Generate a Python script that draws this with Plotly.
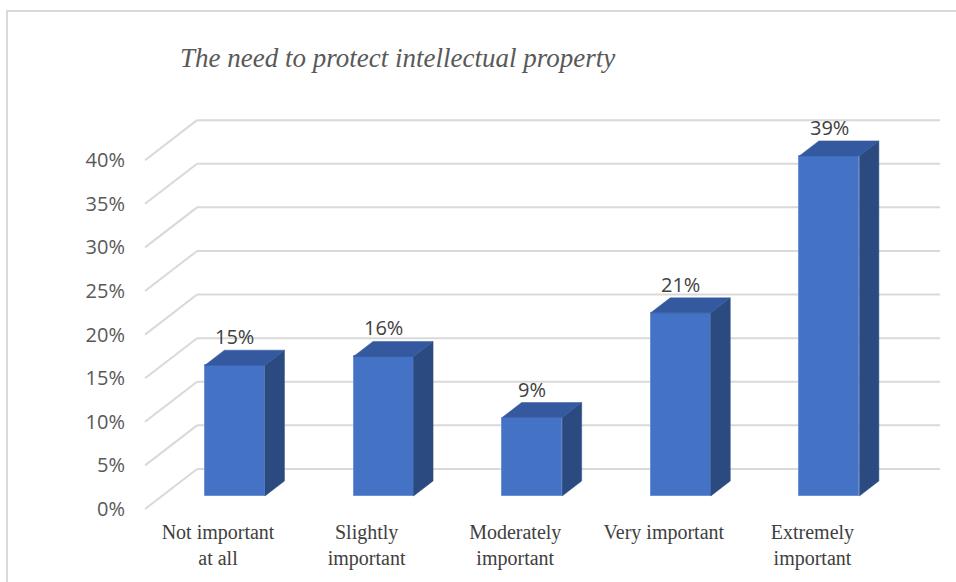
import plotly.graph_objects as go

# Survey results: importance of protecting intellectual property
categories = ["Not important at all", "Slightly important", "Moderately important",
              "Very important", "Extremely important"]
tick_text = ["Not important<br>at all", "Slightly<br>important", "Moderately<br>important",
             "Very important", "Extremely<br>important"]
values = [15, 16, 9, 21, 39]          # percent
y_ticks = [0, 5, 10, 15, 20, 25, 30, 35, 40]

# Oblique 3-D projection: one unit of depth shifts a point by these amounts
DEPTH_DX = 0.35      # in category units
DEPTH_DY = 4.59      # in percent units
BAR_FRONT = 0.325    # depth of bar front faces (0 = front edge, 1 = back wall)
BAR_BACK = 0.70      # depth of bar back faces
BAR_W = 0.404        # bar width in category units
WALL_LEFT = -0.491   # left edge of the floor/walls at the front
WALL_RIGHT = 4.509   # right edge of the back wall at the front

FRONT = "#4472C4"
SIDE = "#2B4A80"
TOP = "#34599E"
GRID = "#D9D9D9"

fig = go.Figure()

# Back wall gridlines and left wall diagonals, kept beneath the bars
for t in y_ticks:
    fig.add_shape(type="line", xref="x", yref="y", layer="below",
                  x0=WALL_LEFT, y0=t, x1=WALL_LEFT + DEPTH_DX, y1=t + DEPTH_DY,
                  line=dict(color=GRID, width=2))
    fig.add_shape(type="line", xref="x", yref="y", layer="below",
                  x0=WALL_LEFT + DEPTH_DX, y0=t + DEPTH_DY,
                  x1=WALL_RIGHT + DEPTH_DX, y1=t + DEPTH_DY,
                  line=dict(color=GRID, width=2))

x_pos = list(range(len(values)))
fx = [c + BAR_FRONT * DEPTH_DX for c in x_pos]
base = BAR_FRONT * DEPTH_DY
ddx = (BAR_BACK - BAR_FRONT) * DEPTH_DX
ddy = (BAR_BACK - BAR_FRONT) * DEPTH_DY

# Side and top faces of each bar
for cx, v in zip(fx, values):
    xl, xr = cx - BAR_W / 2, cx + BAR_W / 2
    yb, yt = base, base + v
    fig.add_trace(go.Scatter(
        x=[xr, xr, xr + ddx, xr + ddx, xr], y=[yb, yt, yt + ddy, yb + ddy, yb],
        mode="lines", fill="toself", fillcolor=SIDE, line=dict(color=SIDE, width=0.5),
        hoverinfo="skip", showlegend=False))
    fig.add_trace(go.Scatter(
        x=[xl, xr, xr + ddx, xl + ddx, xl], y=[yt, yt, yt + ddy, yt + ddy, yt],
        mode="lines", fill="toself", fillcolor=TOP, line=dict(color=TOP, width=0.5),
        hoverinfo="skip", showlegend=False))

# Front faces
fig.add_trace(go.Bar(x=fx, y=values, base=[base] * len(values), width=BAR_W,
                     marker=dict(color=FRONT, line=dict(color="#6C91D6", width=1)),
                     showlegend=False, hovertext=categories))

# Value labels above each bar
for cx, v in zip(fx, values):
    fig.add_annotation(x=cx, y=base + v + ddy, text=f"{v}%", showarrow=False,
                       xanchor="center", yanchor="bottom", yshift=-2,
                       font=dict(family="Open Sans", size=20, color="#404040"))

# Chart title
fig.add_annotation(x=178 / 956, y=1 - 58 / 582, xref="paper", yref="paper",
                   text="<i>The need to protect intellectual property</i>",
                   showarrow=False, xanchor="left", yanchor="middle",
                   font=dict(family="Liberation Serif", size=27, color="#595959"))

# Chart area border
fig.add_shape(type="rect", xref="paper", yref="paper",
              x0=7 / 956, y0=-0.02, x1=1.02, y1=1 - 11 / 582,
              line=dict(color=GRID, width=2), fillcolor="rgba(0,0,0,0)", layer="below")

fig.update_layout(
    width=956, height=582,
    margin=dict(l=0, r=0, t=0, b=0),
    paper_bgcolor="white", plot_bgcolor="white",
    bargap=0,
    xaxis=dict(domain=[140 / 956, 1], range=[-0.525, 4.966], automargin=False,
               tickvals=x_pos, ticktext=tick_text,
               showgrid=False, zeroline=False, showline=False, ticks="",
               tickfont=dict(family="Liberation Serif", size=20, color="#404040"),
               ticklabelstandoff=6),
    yaxis=dict(domain=[(582 - 512) / 582, 1], range=[-0.344, 58.37], automargin=False,
               tickvals=y_ticks, ticktext=[f"{t}%" for t in y_ticks],
               showgrid=False, zeroline=False, showline=False, ticks="",
               tickfont=dict(family="Open Sans", size=20, color="#595959"),
               ticklabelstandoff=14),
)

fig.write_html("out.html")
